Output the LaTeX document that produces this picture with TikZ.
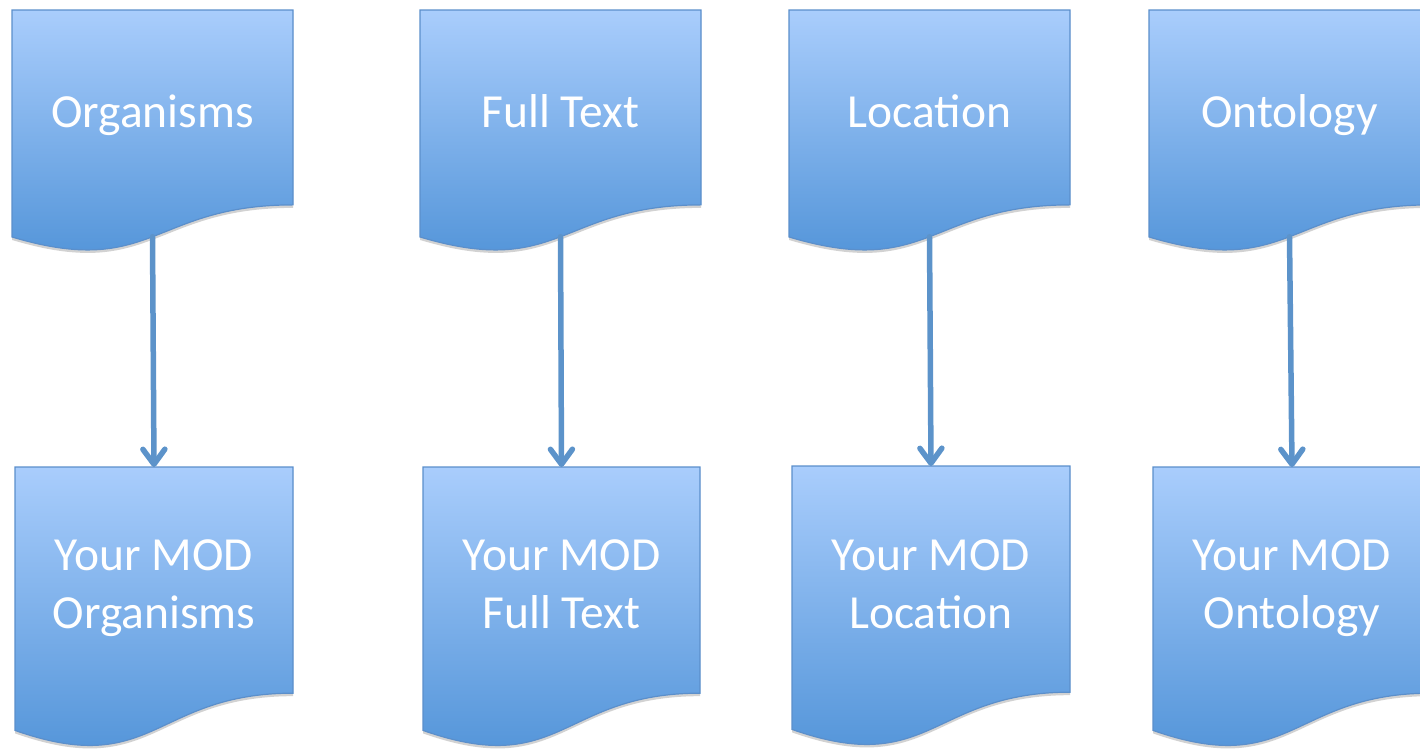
\documentclass[tikz,border=0pt]{standalone}
\usepackage{fontspec}
\setmainfont{Carlito}
\usetikzlibrary{arrows.meta,shadows}
\definecolor{boxtop}{HTML}{A9CDFC}
\definecolor{boxbot}{HTML}{4C90D6}
\definecolor{boxedge}{HTML}{5B8FCB}
\definecolor{arrowc}{HTML}{5C93CA}
\tikzset{
  docshape/.style={draw=boxedge, line width=1.2pt, top color=boxtop, bottom color=boxbot,
    drop shadow={shadow xshift=0pt, shadow yshift=-3pt, opacity=0.25, fill=black!70}},
  doclabel/.style={text=white, font=\fontsize{47.5}{58}\selectfont, align=center, inner sep=0pt,
    execute at end node=\vphantom{g}},
  flow/.style={draw=arrowc, line width=5.5pt, line cap=round,
    -{Straight Barb[length=15pt,width=22pt,line cap=round,line join=round]}}
}
\newcommand\docbox[5]{% name, x left, y top, width, height
  \pgfmathsetmacro\dxr{#2+#4}\pgfmathsetmacro\dxm{#2+0.5*#4}%
  \pgfmathsetmacro\dyr{#3+0.802*#5}\pgfmathsetmacro\dyc{#3+1.1075*#5}%
  \pgfmathsetmacro\dyl{#3+0.934*#5}\pgfmathsetmacro\dyb{#3+0.933*#5}%
  \path[docshape] (#2,#3) -- (\dxr,#3) -- (\dxr,\dyr)
     .. controls (\dxm,\dyr) and (\dxm,\dyc) .. (#2,\dyl) -- cycle;
  \coordinate (#1-t) at (\dxm,#3);
  \coordinate (#1-b) at (\dxm,\dyb);
}
\begin{document}
\begin{tikzpicture}[x=1pt,y=-1pt]
\useasboundingbox (0,0) rectangle (1420,748);
\clip (0,0) rectangle (1420,748);
% top row
\docbox{org}{12}{10}{281}{243}
\docbox{ful}{420}{10}{281}{243}
\docbox{loc}{789}{10}{281}{243}
\docbox{ont}{1149}{10}{281}{243}
% bottom row
\docbox{morg}{15}{467}{278}{282}
\docbox{mful}{423}{467}{277}{282}
\docbox{mloc}{792}{466}{278}{282}
\docbox{mont}{1153}{467}{278}{282}
% labels
\node[doclabel, anchor=base] (lorg) at (152.5,127) {Organisms};
\node[doclabel, anchor=base] (lful) at (560.5,127) {Full Text};
\node[doclabel, anchor=base] (lloc) at (929.5,127) {Location};
\node[doclabel, anchor=base] (lont) at (1289.5,127) {Ontology};
\node[doclabel] (lmorg) at (154,588) {Your MOD\\Organisms};
\node[doclabel] (lmful) at (561.5,588) {Your MOD\\Full Text};
\node[doclabel] (lmloc) at (931,588) {Your MOD\\Location};
\node[doclabel] (lmont) at (1292,588) {Your MOD\\Ontology};
% connectors
\draw[flow] (org-b) -- (morg-t);
\draw[flow] (ful-b) -- (mful-t);
\draw[flow] (loc-b) -- (mloc-t);
\draw[flow] (ont-b) -- (mont-t);
\end{tikzpicture}
\end{document}
